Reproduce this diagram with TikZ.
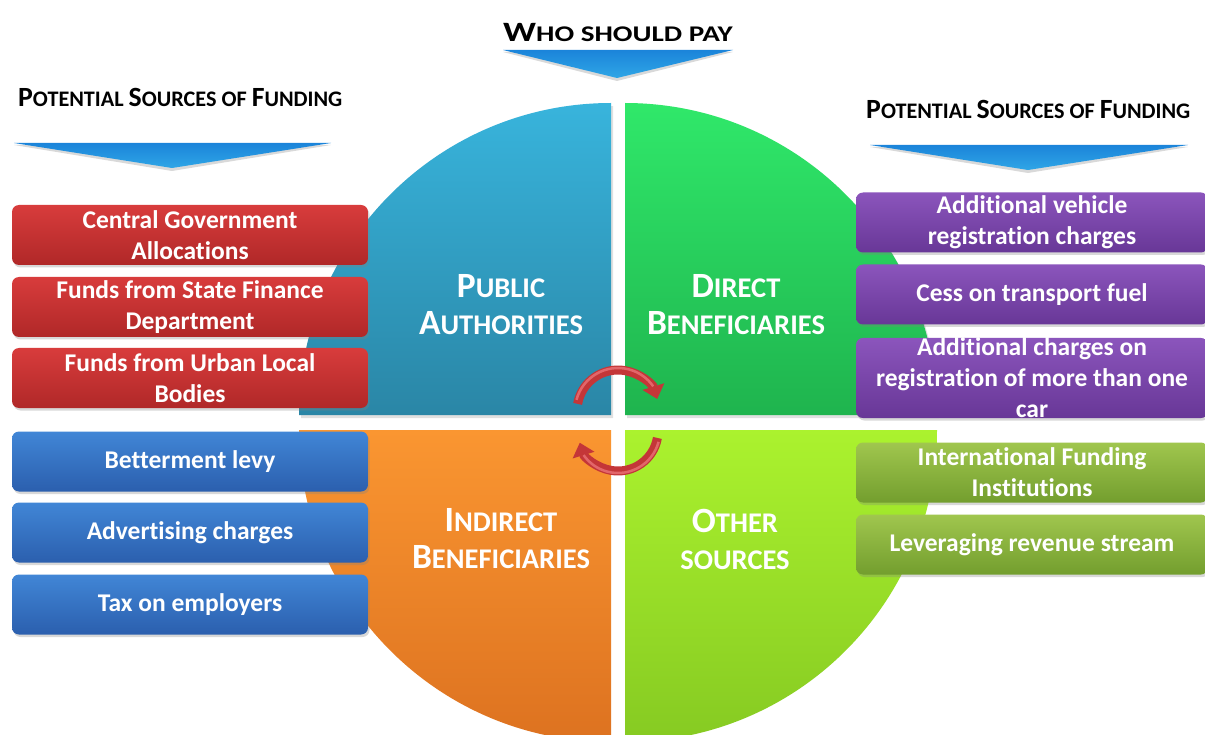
\documentclass[tikz,border=0pt]{standalone}
\usepackage{fontspec}
\setmainfont{Carlito}[Ligatures=NoCommon]
\usetikzlibrary{arrows.meta,shadows}
\definecolor{qBlueT}{HTML}{38B4DC}
\definecolor{qBlueB}{HTML}{2A86A6}
\definecolor{qGreenT}{HTML}{30E86A}
\definecolor{qGreenB}{HTML}{1FB44E}
\definecolor{qOrT}{HTML}{FA9631}
\definecolor{qOrB}{HTML}{DD7220}
\definecolor{qLimeT}{HTML}{ABF22E}
\definecolor{qLimeB}{HTML}{86CA22}
\definecolor{bRedT}{HTML}{D83C3C}
\definecolor{bRedB}{HTML}{B02828}
\definecolor{bBlueT}{HTML}{4186D6}
\definecolor{bBlueB}{HTML}{2B5FAE}
\definecolor{bPurT}{HTML}{8B55BC}
\definecolor{bPurB}{HTML}{683797}
\definecolor{bOlT}{HTML}{A0C64E}
\definecolor{bOlB}{HTML}{739E2E}
\definecolor{chevT}{HTML}{1B84DA}
\definecolor{chevM}{HTML}{4CC8F4}
\definecolor{chevB}{HTML}{2FA6E6}
\definecolor{arrowRed}{HTML}{C43638}
\definecolor{arrowHi}{HTML}{E2666A}
\newcommand\tx[2]{{\fontsize{#1}{38}\selectfont #2}}
\begin{document}
\begin{tikzpicture}[x=1pt,y=-1pt,
  lbox/.style={rounded corners=7pt, minimum width=356pt, minimum height=60pt,
    text=white, font=\fontsize{25.5}{31}\selectfont\bfseries, align=center, inner sep=0pt,
    drop shadow={shadow xshift=1.5pt, shadow yshift=-2.5pt, opacity=.3}},
  rbox/.style={lbox, minimum width=352pt},
  redbox/.style={top color=bRedT, bottom color=bRedB},
  bluebox/.style={top color=bBlueT, bottom color=bBlueB},
  purbox/.style={top color=bPurT, bottom color=bPurB},
  olbox/.style={top color=bOlT, bottom color=bOlB},
  qlabel/.style={text=white, font=\bfseries\fontsize{28.5}{37}\selectfont, align=center, inner sep=0pt},
  heading/.style={text=black, font=\bfseries\fontsize{22.2}{30}\selectfont, inner sep=0pt, anchor=base west},
  curv/.style={line width=9pt, draw=arrowRed, -{Triangle[length=13pt,width=22pt]}},
  curvhi/.style={line width=2.5pt, draw=arrowHi},
  chevshadow/.style={fill=black, opacity=.15},
  chev/.style={top color=chevT, middle color=chevM, bottom color=chevB}
]
\useasboundingbox (0,0) rectangle (1205,735);
\clip (0,0) rectangle (1205,735);
\fill[white] (0,0) rectangle (1205,735);

% quadrants
\coordinate (cTL) at (611,415);
\coordinate (cTR) at (625,415);
\coordinate (cBL) at (611,430);
\coordinate (cBR) at (625,430);
\fill[black, opacity=.12] ([xshift=2pt,yshift=-3pt]cTL) -- ++(0,-312) arc[start angle=270, end angle=180, radius=312] -- cycle;
\fill[black, opacity=.12] ([xshift=2pt,yshift=-3pt]cTR) -- ++(0,-312) arc[start angle=270, end angle=360, radius=312] -- cycle;
\shade[top color=qBlueT, bottom color=qBlueB] (cTL) -- ++(0,-312) arc[start angle=270, end angle=180, radius=312] -- cycle;
\shade[top color=qGreenT, bottom color=qGreenB] (cTR) -- ++(0,-312) arc[start angle=270, end angle=360, radius=312] -- cycle;
\shade[top color=qOrT, bottom color=qOrB] (cBL) -- ++(-312,0) arc[start angle=180, end angle=90, radius=312] -- cycle;
\shade[top color=qLimeT, bottom color=qLimeB] (cBR) -- ++(312,0) arc[start angle=0, end angle=90, radius=312] -- cycle;

% quadrant labels
\node[qlabel] (pa) at (501,305) {\tx{35.5}{P}\tx{28.5}{UBLIC}\\\tx{35.5}{A}\tx{28.5}{UTHORITIES}};
\node[qlabel] (db) at (736,305) {\tx{35.5}{D}\tx{28.5}{IRECT}\\\tx{35.5}{B}\tx{28.5}{ENEFICIARIES}};
\node[qlabel] (ib) at (501,539) {\tx{35.5}{I}\tx{28.5}{NDIRECT}\\\tx{35.5}{B}\tx{28.5}{ENEFICIARIES}};
\node[qlabel] (os) at (735,539) {\tx{35.5}{O}\tx{28.5}{THER}\\\tx{28.5}{SOURCES}};

% curved arrows
\coordinate (ac1) at (618,411);
\coordinate (ac2) at (618,431);
\draw[curv] (ac1) ++(190:41) arc[start angle=190, end angle=343, radius=41];
\draw[curvhi] (ac1) ++(195:43) arc[start angle=195, end angle=325, radius=43];
\draw[curv] (ac2) ++(10:40) arc[start angle=10, end angle=163, radius=40];
\draw[curvhi] (ac2) ++(15:42) arc[start angle=15, end angle=145, radius=42];

% left boxes
\node[lbox, redbox] (r1) at (190,235) {Central Government\\Allocations};
\node[lbox, redbox] (r2) at (190,307) {Funds from State Finance\\Department};
\node[lbox, redbox] (r3) at (190,378) {Funds from Urban Local\\Bodies};
\node[lbox, bluebox] (b1) at (190,461.5) {Betterment levy};
\node[lbox, bluebox] (b2) at (190,532.5) {Advertising charges};
\node[lbox, bluebox] (b3) at (190,604.5) {Tax on employers};

% right boxes
\node[rbox, purbox] (p1) at (1032,222.5) {Additional vehicle\\registration charges};
\node[rbox, purbox] (p2) at (1032,294.5) {Cess on transport fuel};
\node[rbox, purbox, minimum height=80pt] (p3) at (1032,378) {Additional charges on\\registration of more than one\\car};
\node[rbox, olbox] (g1) at (1032,472.5) {International Funding\\Institutions};
\node[rbox, olbox] (g2) at (1032,544.5) {Leveraging revenue stream};

% chevrons
\fill[chevshadow] (14,145) -- (331,145) -- (172,171) -- cycle;
\fill[chevshadow] (503,52) -- (733,52) -- (617,81) -- cycle;
\fill[chevshadow] (870,147) -- (1188,147) -- (1028,173) -- cycle;
\shade[chev] (14,143) -- (331,143) -- (172,168) -- cycle;
\shade[chev] (503,50) -- (733,50) -- (617,78) -- cycle;
\shade[chev] (870,145) -- (1188,145) -- (1028,170) -- cycle;

% headings
\node[heading, anchor=base] (title) at (618,42) {\scalebox{1.3}[1]{\tx{28}{W}\tx{22.4}{HO SHOULD PAY}}};
\node[heading] (hl) at (18,107) {\tx{27.8}{P}\tx{22.2}{OTENTIAL} \tx{27.8}{S}\tx{22.2}{OURCES OF} \tx{27.8}{F}\tx{22.2}{UNDING}};
\node[heading] (hr) at (866,119) {\tx{27.8}{P}\tx{22.2}{OTENTIAL} \tx{27.8}{S}\tx{22.2}{OURCES OF} \tx{27.8}{F}\tx{22.2}{UNDING}};
\end{tikzpicture}
\end{document}
